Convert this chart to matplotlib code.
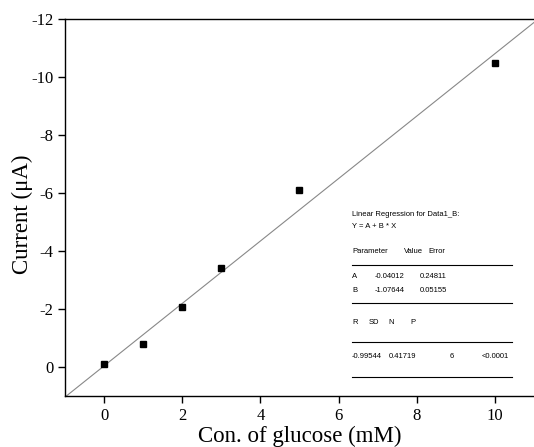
import numpy as np
import matplotlib.pyplot as plt

# glucose calibration data
conc = [0, 1, 2, 3, 5, 10]
current = [-0.1, -0.78, -2.07, -3.43, -6.1, -10.5]

# linear fit parameters (from the regression box)
A = -0.04012
B = -1.07644

xticks = [0, 2, 4, 6, 8, 10]
yticks = [0, -2, -4, -6, -8, -10, -12]

fig = plt.figure(figsize=(5.34, 4.47), dpi=100)
ax = fig.add_axes([0.1217, 0.114, 0.8783, 0.8435])

xfit = np.array([-1, 11])
ax.plot(xfit, A + B * xfit, color="#888888", lw=0.8, zorder=1)
ax.plot(conc, current, "s", color="black", ms=5, zorder=2)

ax.set_xlim(-1, 11)
ax.set_ylim(1, -12)
ax.set_xticks(xticks)
ax.set_yticks(yticks)
ax.set_xticklabels([str(t) for t in xticks], family="Liberation Serif", fontsize=12)
ax.set_yticklabels([str(t) for t in yticks], family="Liberation Serif", fontsize=12)
ax.tick_params(direction="out", length=5, width=1, top=False, right=False)
ax.spines["right"].set_visible(False)
for s in ["left", "top", "bottom"]:
    ax.spines[s].set_linewidth(1)

ax.set_xlabel("Con. of glucose (mM)", family="Liberation Serif", fontsize=16.5)
ax.set_ylabel("Current (\u03bcA)", family="Liberation Serif", fontsize=16.5)
ax.xaxis.set_label_coords(0.5, -0.078)
ax.yaxis.set_label_coords(-0.068, 0.483)

# regression table, placed in pixel positions
W, H = 534, 447
def t(px, py, s):
    fig.text(px / W, 1 - py / H, s, fontsize=5.5, family="Liberation Sans", va="center", ha="left")
def hline(py):
    fig.add_artist(plt.Line2D([352 / W, 512 / W], [1 - py / H, 1 - py / H], color="black", lw=0.8))

t(352, 215, "Linear Regression for Data1_B:")
t(352, 227, "Y = A + B * X")
t(352, 252, "Parameter")
t(404, 252, "Value")
t(428, 252, "Error")
hline(265)
t(352, 277, "A")
t(375, 277, "-0.04012")
t(420, 277, "0.24811")
t(352, 290, "B")
t(375, 290, "-1.07644")
t(420, 290, "0.05155")
hline(303)
t(352, 322, "R")
t(369, 322, "SD")
t(388, 322, "N")
t(410, 322, "P")
hline(342)
t(352, 357, "-0.99544")
t(389, 357, "0.41719")
t(450, 357, "6")
t(482, 357, "<0.0001")
hline(377)

plt.savefig("out.png", dpi=100)
